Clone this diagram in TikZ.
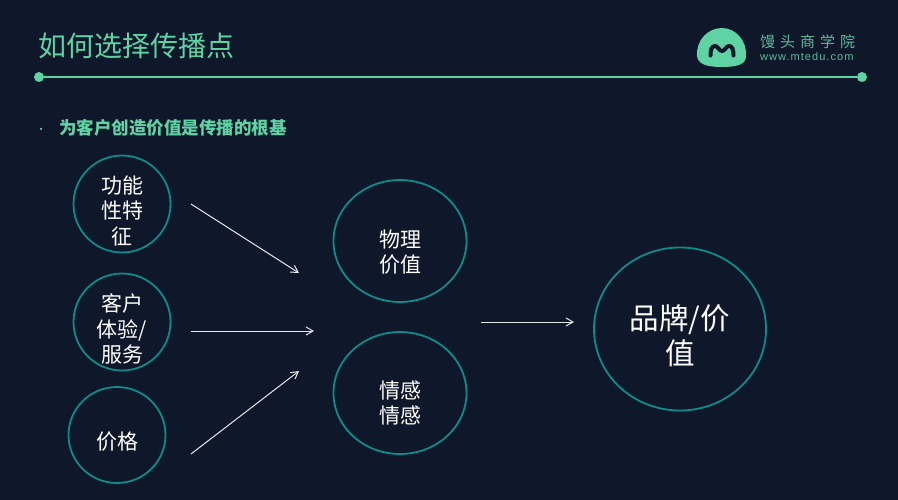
\documentclass[tikz,border=0pt]{standalone}
\usepackage{fontspec}
\setmainfont{Noto Sans CJK SC}
\newfontfamily\latinfont[LetterSpace=9.5]{Liberation Sans}
\usetikzlibrary{shapes.geometric,arrows.meta}
\definecolor{bg}{HTML}{0F172A}
\definecolor{mint}{HTML}{5FD3A4}
\definecolor{tealc}{HTML}{0E8C8C}
\definecolor{logotxt}{HTML}{5FB89A}
\newcommand{\lowertxt}[2]{\raisebox{-#1}[0pt][0pt]{\begin{tabular}{@{}c@{}}#2\end{tabular}}}
\tikzset{
  valuecircle/.style={draw=tealc,line width=1.8pt,ellipse,inner sep=0pt,text=white,font=\fontsize{21}{25.5}\selectfont},
  flow/.style={draw=white!90!bg,line width=1pt,-{Straight Barb[length=7pt,width=8pt]}},
  dot/.style={circle,fill=mint,inner sep=0pt,minimum size=10pt},
}
\begin{document}
\begin{tikzpicture}[x=1pt,y=-1pt]
\useasboundingbox (0,0) rectangle (898,500);
\fill[bg] (0,0) rectangle (898,500);
\node[anchor=west,text=mint,inner sep=0pt,font=\fontsize{28}{32}\selectfont] (title) at (38,46) {如何选择传播点};
\node[dot] (dl) at (39,77) {};
\node[dot] (dr) at (862,77) {};
\draw[mint,line width=1.1pt] (dl) -- (dr);
% logo
\fill[mint] (697,56) .. controls (696,40) and (708,28) .. (722,28) .. controls (736,28) and (747,41) .. (746,56) .. controls (746,64) and (738,67) .. (722,67) .. controls (706,67) and (698,64) .. (697,56) -- cycle;
\draw[bg,line width=4pt,line cap=round,line join=round] (710.5,55.5) .. controls (710.5,49) and (712,46) .. (715,46) .. controls (718,46) and (719,51) .. (722,51) .. controls (725,51) and (726,46) .. (729,46) .. controls (732,46) and (733.5,49) .. (733.5,55.5);
\node[anchor=west,text=logotxt,inner sep=0pt,font=\fontsize{15}{18}\selectfont] (brand) at (760,41.5) {馒\hspace{5pt}头\hspace{5pt}商\hspace{5pt}学\hspace{5pt}院};
\node[anchor=west,text=logotxt,inner sep=0pt,font=\latinfont\fontsize{11}{13}\selectfont] (web) at (760,57) {www.mtedu.com};
% bullet
\node[circle,fill=mint,inner sep=0pt,minimum size=2.5pt] (bul) at (41,129) {};
\node[anchor=west,text=mint,inner sep=0pt,font=\fontsize{17.5}{20}\selectfont\bfseries] (head) at (59,128) {为客户创造价值是传播的根基};
% circles
\node[valuecircle,minimum width=97pt,minimum height=97pt] (a) at (122,204) {\lowertxt{15pt}{功能\\性特\\征}};
\node[valuecircle,minimum width=97pt,minimum height=97pt] (b) at (122,322) {\lowertxt{15.5pt}{客户\\体验/\\服务}};
\node[valuecircle,minimum width=97pt,minimum height=96pt] (c) at (117,435) {\lowertxt{15pt}{价格}};
\node[valuecircle,minimum width=133pt,minimum height=122pt] (d) at (400,241) {\lowertxt{19pt}{物理\\价值}};
\node[valuecircle,minimum width=133pt,minimum height=122pt] (e) at (400,393) {\lowertxt{18pt}{情感\\情感}};
\node[valuecircle,minimum width=172pt,minimum height=163pt,font=\fontsize{29.5}{35}\selectfont] (f) at (680,329) {\lowertxt{17pt}{品牌/价\\值}};
% arrows
\coordinate (a1) at (191,204); \coordinate (a2) at (299,273);
\coordinate (b1) at (191,331); \coordinate (b2) at (314,331);
\coordinate (c1) at (191,454); \coordinate (c2) at (299,371);
\coordinate (g1) at (481,322); \coordinate (g2) at (574,322);
\draw[flow] (a1) -- (a2);
\draw[flow] (b1) -- (b2);
\draw[flow] (c1) -- (c2);
\draw[flow] (g1) -- (g2);
\end{tikzpicture}
\end{document}
